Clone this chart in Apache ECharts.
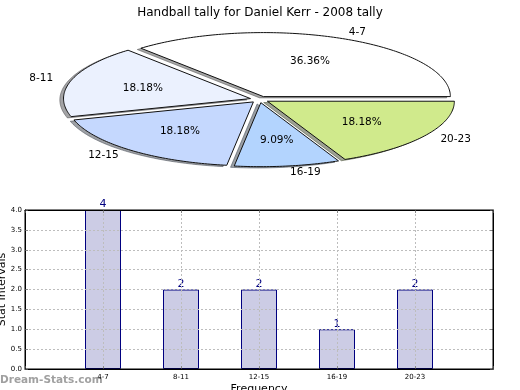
<!DOCTYPE html>
<html>
<head>
<meta charset="utf-8">
<script src="https://cdn.jsdelivr.net/npm/echarts@6/dist/echarts.min.js"></script>
<style>
html,body{margin:0;padding:0;background:#fff;}
#c{width:520px;height:390px;}
</style>
</head>
<body>
<div id="c"></div>
<script>
// ---- data ----
var categories = ['4-7', '8-11', '12-15', '16-19', '20-23'];
var counts = [4, 2, 2, 1, 2];
var sliceColors = ['#ffffff', '#ebf1fe', '#c5d8fe', '#b3d4fe', '#d0ea8c'];
var yTicks = [0, 0.5, 1, 1.5, 2, 2.5, 3, 3.5, 4];
var titleText = 'Handball tally for Daniel Kerr - 2008 tally';

// ---- pie layout (elliptical, matplotlib-like) ----
var PIE = { cx: 259.5, cy: 99.5, rx: 187, ry: 64, explode: 0.05, shadowDx: -3.7, shadowDy: 1.3 };
var FONT = 'DejaVu Sans';

var total = counts.reduce(function (a, b) { return a + b; }, 0);

function hexToRgb(h) {
  var n = parseInt(h.slice(1), 16);
  return [(n >> 16) & 255, (n >> 8) & 255, n & 255];
}

function wedgePoints(ox, oy, a0, a1) {
  var pts = [[ox, oy]];
  var steps = Math.max(8, Math.ceil((a1 - a0) / (Math.PI / 180)));
  for (var k = 0; k <= steps; k++) {
    var a = a0 + (a1 - a0) * k / steps;
    pts.push([ox + PIE.rx * Math.cos(a), oy - PIE.ry * Math.sin(a)]);
  }
  return pts;
}

function renderPie(params, api) {
  var i = params.dataIndex;
  var v = api.value(0);
  var before = 0;
  for (var j = 0; j < i; j++) before += counts[j];
  var a0 = before / total * 2 * Math.PI;
  var a1 = (before + v) / total * 2 * Math.PI;
  var am = (a0 + a1) / 2;
  var ox = PIE.cx + PIE.explode * Math.cos(am) * PIE.rx;
  var oy = PIE.cy - PIE.explode * Math.sin(am) * PIE.ry;
  var pts = wedgePoints(ox, oy, a0, a1);
  var rgb = hexToRgb(sliceColors[i]);
  var sh = 'rgba(' + Math.round(rgb[0] * 0.3) + ',' + Math.round(rgb[1] * 0.3) + ',' + Math.round(rgb[2] * 0.3) + ',0.5)';
  var shPts = pts.map(function (p) { return [p[0] + PIE.shadowDx, p[1] + PIE.shadowDy]; });
  var cosm = Math.cos(am), sinm = Math.sin(am);
  var lx = ox + 1.1 * PIE.rx * cosm;
  var ly = oy - 1.1 * PIE.ry * sinm;
  var px = ox + 0.6 * PIE.rx * cosm;
  var py = oy - 0.6 * PIE.ry * sinm;
  var pct = (v / total * 100).toFixed(2) + '%';
  return {
    type: 'group',
    children: [
      { type: 'polygon', z2: 1, shape: { points: shPts }, style: { fill: sh, stroke: sh, lineWidth: 1 } },
      { type: 'polygon', z2: 10, shape: { points: pts }, style: { fill: sliceColors[i], stroke: '#111', lineWidth: 1 } },
      { type: 'text', z2: 20, style: { x: lx, y: ly, text: categories[i], fill: '#000', font: '10.5px "' + FONT + '"', align: cosm >= 0 ? 'left' : 'right', verticalAlign: 'middle' } },
      { type: 'text', z2: 20, style: { x: px, y: py, text: pct, fill: '#000', font: '10.5px "' + FONT + '"', align: 'center', verticalAlign: 'middle' } }
    ]
  };
}

var chart = echarts.init(document.getElementById('c'), null, { renderer: 'canvas' });

var gridLine = { show: true, lineStyle: { color: '#bdbdbd', type: [2, 2], width: 1 } };

var option = {
  animation: false,
  backgroundColor: '#fff',
  textStyle: { fontFamily: FONT },
  title: {
    text: titleText, left: 'center', top: 2,
    textStyle: { fontFamily: FONT, fontSize: 12, fontWeight: 'normal', color: '#000' }
  },
  grid: { left: 25, right: 27, top: 210, bottom: 21, containLabel: false, outerBoundsMode: 'none', show: true, borderColor: '#000', borderWidth: 1, backgroundColor: 'transparent', z: 6 },
  xAxis: [{
    type: 'value', min: -1, max: 5, interval: 1, position: 'bottom', z: 5,
    name: 'Frequency', nameLocation: 'middle', nameGap: 15, nameMoveOverlap: false,
    nameTextStyle: { fontFamily: FONT, fontSize: 11, color: '#000' },
    axisLine: { show: true, onZero: false, lineStyle: { color: '#000' } },
    axisTick: { show: true, inside: true, length: 3, lineStyle: { color: '#888' } },
    axisLabel: { fontSize: 7, color: '#000', margin: 5, formatter: function (v) { return categories[v] || ''; } },
    splitLine: gridLine
  }, {
    type: 'value', min: -1, max: 5, interval: 1, position: 'top', z: 5,
    axisLine: { show: true, onZero: false, lineStyle: { color: '#000' } },
    axisTick: { show: true, inside: true, length: 3, lineStyle: { color: '#888' } },
    axisLabel: { show: false }, splitLine: { show: false }
  }],
  yAxis: [{
    type: 'value', min: 0, max: 4, interval: 0.5, z: 5, position: 'left',
    name: 'Stat Intervals', nameLocation: 'middle', nameGap: 17, nameMoveOverlap: false,
    nameTextStyle: { fontFamily: FONT, fontSize: 11, color: '#000' },
    axisLine: { show: true, onZero: false, lineStyle: { color: '#000' } },
    axisTick: { show: true, inside: true, length: 3, lineStyle: { color: '#888' } },
    axisLabel: { fontSize: 7, color: '#000', margin: 3, formatter: function (v) { return v.toFixed(1); } },
    splitLine: gridLine
  }, {
    type: 'value', min: 0, max: 4, interval: 0.5, position: 'right', z: 5,
    axisLine: { show: true, onZero: false, lineStyle: { color: '#000' } },
    axisTick: { show: true, inside: true, length: 3, lineStyle: { color: '#888' } },
    axisLabel: { show: false }, splitLine: { show: false }
  }],
  graphic: [{
    type: 'text', left: 0, top: 375, z: 1,
    style: { text: 'Dream-Stats.com', fill: '#a0a0a0', font: 'bold 10.5px "' + FONT + '"' }
  }],
  series: [{
    type: 'custom', coordinateSystem: 'none', renderItem: renderPie,
    data: counts.map(function (v) { return [v]; }), z: 1
  }, {
    type: 'bar', xAxisIndex: 0, yAxisIndex: 0, z: 1,
    barWidth: 36,
    data: counts.map(function (v, i) { return [i, v]; }),
    itemStyle: { color: '#ccccE5', borderColor: '#000080', borderWidth: 1 },
    label: { show: true, position: 'top', distance: 0, color: '#000080', fontSize: 11, fontFamily: FONT,
      formatter: function (p) { return String(p.value[1]); } }
  }]
};
chart.setOption(option);
</script>
</body>
</html>
